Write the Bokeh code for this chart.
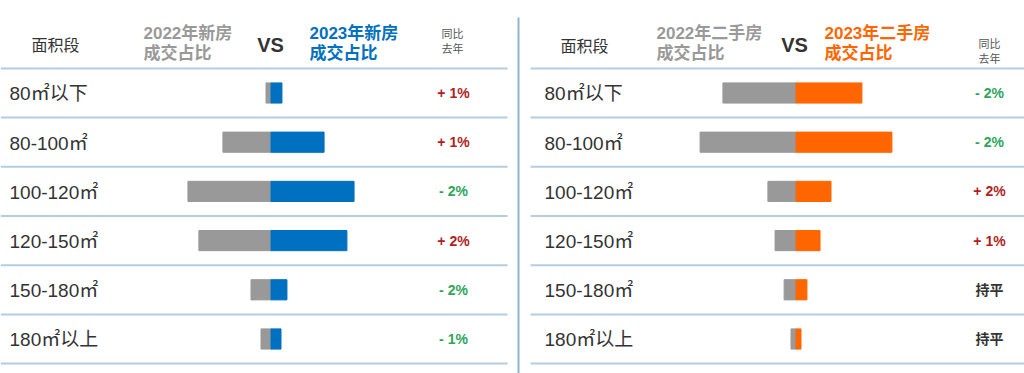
from bokeh.plotting import figure
from bokeh.models import Range1d, ColumnDataSource
from bokeh.core.properties import value
from bokeh.embed import file_html
from bokeh.resources import INLINE

# ---------------- data ----------------
segments = ["80㎡以下", "80-100㎡", "100-120㎡", "120-150㎡", "150-180㎡", "180㎡以上"]
new_2022 = [2.1, 20.2, 34.9, 30.3, 8.4, 4.2]
new_2023 = [4.6, 22.3, 34.9, 31.9, 6.7, 4.2]
new_change = ["+ 1%", "+ 1%", "- 2%", "+ 2%", "- 2%", "- 1%"]
second_2022 = [30.7, 40.3, 11.8, 8.8, 5.0, 2.1]
second_2023 = [27.7, 40.3, 14.7, 10.1, 4.6, 2.1]
second_change = ["- 2%", "- 2%", "+ 2%", "+ 1%", "持平", "持平"]

FONT = value("Liberation Sans, Noto Sans CJK SC")
GRAY = "#999999"
BLUE = "#0070C0"
ORANGE = "#FF6600"
LINE = "#B4CDE0"
DARK = "#333333"


def change_color(s):
    if s.startswith("+"):
        return "#B01E23"
    if s.startswith("-"):
        return "#2EA55A"
    return DARK


W, H = 1024, 373
X0, Y0 = 0, 0
p = figure(width=W, height=H, x_range=Range1d(X0, X0 + W), y_range=Range1d(Y0 + H, Y0),
           output_backend="svg", toolbar_location=None, min_border=0)
p.min_border_left = p.min_border_right = p.min_border_top = p.min_border_bottom = 0
p.axis.visible = False
p.grid.visible = False
p.outline_line_color = None
p.background_fill_color = "white"

# row scale: row i centred at pixel 92.5 + 49.2*i
r0, rstep = 92.5, 49.2
p.extra_y_ranges = {"rows": Range1d(start=(Y0 + H - r0) / rstep, end=(Y0 - r0) / rstep)}
# percent scales for the two panels
pxp = 2.38
lc, rc = 270.5, 795.5
p.extra_x_ranges = {
    "lp": Range1d(start=(X0 - lc) / pxp, end=(X0 + W - lc) / pxp),
    "rp": Range1d(start=(X0 - rc) / pxp, end=(X0 + W - rc) / pxp),
}

rows = list(range(len(segments)))
src = ColumnDataSource(dict(
    row=rows,
    seg=segments,
    n22=[-v for v in new_2022], n23=new_2023,
    s22=[-v for v in second_2022], s23=second_2023,
    nch=new_change, sch=second_change,
    nchc=[change_color(s) for s in new_change],
    schc=[change_color(s) for s in second_change],
    zero=[0] * len(rows),
    ly=[r + 0.02 for r in rows],
))

# separator lines
bounds = [b - 0.5 for b in range(len(segments) + 1)]
p.segment(x0=[0] * len(bounds), x1=[507] * len(bounds), y0=bounds, y1=bounds,
          y_range_name="rows", line_color=LINE, line_width=2)
p.segment(x0=[530] * len(bounds), x1=[1024] * len(bounds), y0=bounds, y1=bounds,
          y_range_name="rows", line_color=LINE, line_width=2)
p.segment(x0=[518], x1=[518], y0=[17], y1=[380], line_color="#8FB4D0", line_width=2)

# bars
bh = 0.41
p.hbar(y="row", left="n22", right="zero", height=bh, source=src, color=GRAY,
       x_range_name="lp", y_range_name="rows")
p.hbar(y="row", left="zero", right="n23", height=bh, source=src, color=BLUE,
       x_range_name="lp", y_range_name="rows")
p.hbar(y="row", left="s22", right="zero", height=bh, source=src, color=GRAY,
       x_range_name="rp", y_range_name="rows")
p.hbar(y="row", left="zero", right="s23", height=bh, source=src, color=ORANGE,
       x_range_name="rp", y_range_name="rows")

# row labels
for x in (9, 544):
    p.text(x=x, y="ly", text="seg", source=src, y_range_name="rows", text_font=FONT,
           text_font_size="19px", text_color=DARK, text_align="left", text_baseline="middle")

# change values
p.text(x=453, y="row", text="nch", source=src, y_range_name="rows", text_font=FONT,
       text_font_size="14px", text_font_style="bold", text_color="nchc",
       text_align="center", text_baseline="middle")
p.text(x=989, y="row", text="sch", source=src, y_range_name="rows", text_font=FONT,
       text_font_size="14px", text_font_style="bold", text_color="schc",
       text_align="center", text_baseline="middle")


def txt(x, y, t, size, color, bold=False, align="left"):
    p.text(x=[x], y=[y], text=[t], text_font=FONT, text_font_size=size,
           text_font_style="bold" if bold else "normal", text_color=color,
           text_align=align, text_baseline="middle")


# headers left
txt(55, 45, "面积段", "16px", DARK, align="center")
txt(143, 33, "2022年新房", "17px", GRAY, bold=True)
txt(143, 53, "成交占比", "17px", GRAY, bold=True)
txt(270, 44, "VS", "20px", DARK, bold=True, align="center")
txt(309, 33, "2023年新房", "17px", BLUE, bold=True)
txt(309, 53, "成交占比", "17px", BLUE, bold=True)
txt(452, 33, "同比", "11px", "#555555", align="center")
txt(452, 48, "去年", "11px", "#555555", align="center")

# headers right
txt(584, 46, "面积段", "16px", DARK, align="center")
txt(656, 33, "2022年二手房", "17px", GRAY, bold=True)
txt(656, 53, "成交占比", "17px", GRAY, bold=True)
txt(794, 44, "VS", "20px", DARK, bold=True, align="center")
txt(824, 33, "2023年二手房", "17px", ORANGE, bold=True)
txt(824, 53, "成交占比", "17px", ORANGE, bold=True)
txt(989, 43, "同比", "11px", "#555555", align="center")
txt(989, 58, "去年", "11px", "#555555", align="center")

open("out.html", "w").write(file_html(p, INLINE))
